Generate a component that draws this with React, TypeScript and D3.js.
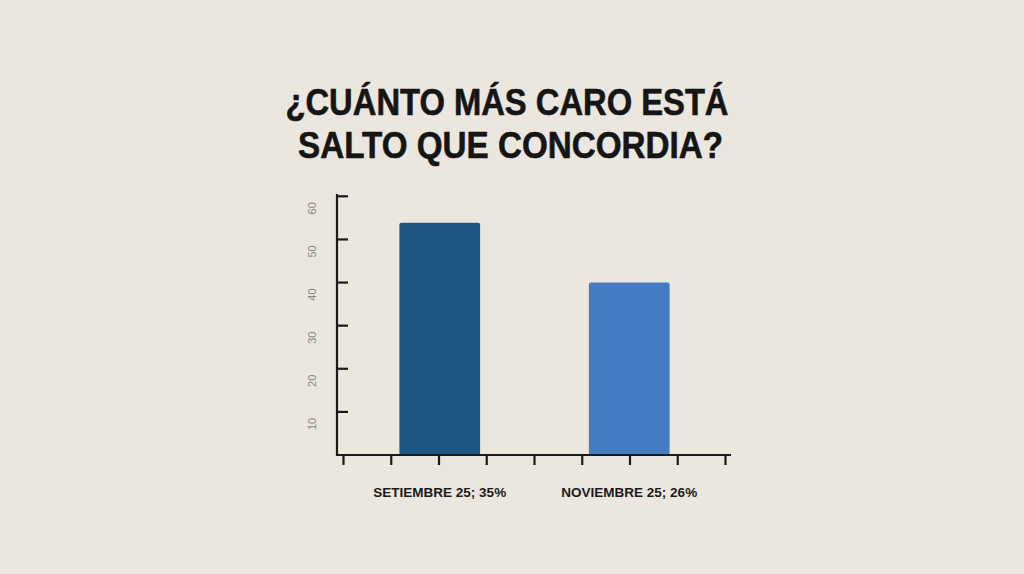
import * as d3 from 'd3';

const titleLines = ['¿CUÁNTO MÁS CARO ESTÁ', 'SALTO QUE CONCORDIA?'];
const categories = ['SETIEMBRE 25; 35%', 'NOVIEMBRE 25; 26%'];
const values = [35, 26];
const barColors = ['#1e5683', '#457bc0'];
const yTicks = [6.5, 13, 19.5, 26, 32.5, 39];
const yTickLabels = ['10', '20', '30', '40', '50', '60'];
const xTickIndex = d3.range(9);

const W = 1024;
const H = 574;
const font = '"Liberation Sans", Arial, sans-serif';

export default function App() {
  const axisX = 337;
  const baseY = 455;

  const y = d3.scaleLinear().domain([0, 39.2]).range([baseY, 195]);
  const x = d3
    .scaleBand<string>()
    .domain(categories)
    .range([345, 724])
    .paddingInner(0.574)
    .paddingOuter(0.287);
  const xt = d3.scaleLinear().domain([0, 8]).range([343.5, 725.5]);

  const titleWidths = [443, 425];

  return (
    <svg
      width={W}
      height={H}
      viewBox={`0 0 ${W} ${H}`}
      style={{ position: 'absolute', left: 0, top: 0, background: '#ebe7df' }}
    >
      <rect width={W} height={H} fill="#ebe7df" />

      {/* title */}
      {titleLines.map((t, i) => (
        <text
          key={t}
          x={i === 0 ? 507 : 510.5}
          y={115 + i * 43}
          textAnchor="middle"
          fontFamily={font}
          fontWeight="bold"
          fontSize={37}
          fill="#151515"
          textLength={titleWidths[i]}
          lengthAdjust="spacingAndGlyphs"
          stroke="#151515"
          strokeWidth={0.6}
        >
          {t}
        </text>
      ))}

      {/* bars */}
      {categories.map((c, i) => (
        <rect
          key={c}
          x={x(c)}
          y={y(values[i])}
          width={x.bandwidth()}
          height={baseY - y(values[i])}
          rx={2}
          fill={barColors[i]}
        />
      ))}

      {/* y axis */}
      <line x1={axisX} x2={axisX} y1={y(39.2) - 1} y2={baseY + 1} stroke="#1a1a1a" strokeWidth={2.2} />
      {yTicks.map((t) => (
        <line key={t} x1={axisX} x2={axisX + 11} y1={y(t)} y2={y(t)} stroke="#1a1a1a" strokeWidth={2.2} />
      ))}
      {yTicks.map((t, i) => (
        <text
          key={'l' + t}
          transform={`translate(316,${y(t) + 12}) rotate(-90)`}
          textAnchor="middle"
          fontFamily={font}
          fontSize={11}
          fill="#6f6d69"
          opacity={0.8}
        >
          {yTickLabels[i]}
        </text>
      ))}

      {/* x axis */}
      <line x1={axisX - 1} x2={731} y1={baseY} y2={baseY} stroke="#1a1a1a" strokeWidth={2.2} />
      {xTickIndex.map((i) => (
        <line key={i} x1={xt(i)} x2={xt(i)} y1={baseY} y2={baseY + 10} stroke="#1a1a1a" strokeWidth={2.2} />
      ))}

      {/* category labels */}
      {categories.map((c) => (
        <text
          key={'c' + c}
          x={x(c)! + x.bandwidth() / 2}
          y={497}
          textAnchor="middle"
          fontFamily={font}
          fontWeight="bold"
          fontSize={13.5}
          fill="#1a1a1a"
        >
          {c}
        </text>
      ))}
    </svg>
  );
}
